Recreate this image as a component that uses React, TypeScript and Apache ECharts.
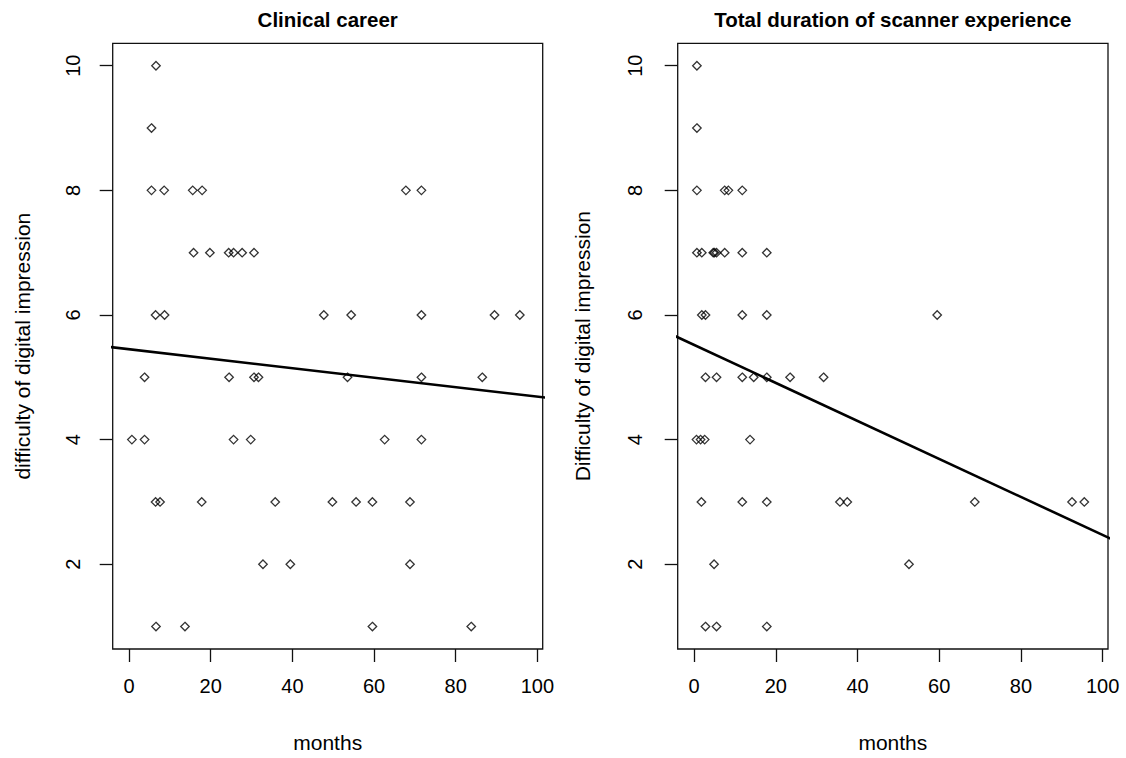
import React, { useEffect, useRef } from "react";
import * as echarts from "echarts";

const xTicks = [0, 20, 40, 60, 80, 100];
const yTicks = [2, 4, 6, 8, 10];

const titles = ["Clinical career", "Total duration of scanner experience"];
const yNames = ["difficulty of digital impression", "Difficulty of digital impression"];
const xName = "months";

const careerMonths = [
  6.6, 5.5, 5.5, 8.6, 15.6, 17.9, 67.8, 71.6, 15.8, 19.8, 24.4, 25.6, 27.7, 30.6,
  6.5, 8.7, 47.7, 54.4, 71.6, 89.5, 95.7, 3.8, 24.5, 30.6, 31.7, 53.5, 71.6, 86.5,
  0.7, 3.8, 25.6, 29.8, 62.6, 71.6, 6.5, 7.6, 17.8, 35.8, 49.8, 55.6, 59.6, 68.8,
  32.8, 39.5, 68.8, 6.6, 13.7, 59.6, 83.8,
];
const careerDifficulty = [
  10, 9, 8, 8, 8, 8, 8, 8, 7, 7, 7, 7, 7, 7,
  6, 6, 6, 6, 6, 6, 6, 5, 5, 5, 5, 5, 5, 5,
  4, 4, 4, 4, 4, 4, 3, 3, 3, 3, 3, 3, 3, 3,
  2, 2, 2, 1, 1, 1, 1,
];

const scannerMonths = [
  0.7, 0.7, 0.7, 7.5, 8.4, 11.8, 0.7, 1.9, 4.7, 5.0, 5.5, 7.5, 11.8, 17.8,
  1.9, 2.8, 11.8, 17.8, 59.5, 2.8, 5.5, 11.8, 14.6, 17.8, 23.5, 31.7,
  0.6, 1.6, 2.6, 13.7, 1.8, 11.8, 17.8, 35.7, 37.5, 68.7, 92.5, 95.5,
  4.9, 52.6, 2.8, 5.5, 17.8,
];
const scannerDifficulty = [
  10, 9, 8, 8, 8, 8, 7, 7, 7, 7, 7, 7, 7, 7,
  6, 6, 6, 6, 6, 5, 5, 5, 5, 5, 5, 5,
  4, 4, 4, 4, 3, 3, 3, 3, 3, 3, 3, 3,
  2, 2, 1, 1, 1,
];

// fitted regression lines: [intercept, slope]
const careerFit = [5.45, -0.0076];
const scannerFit = [5.52, -0.0305];

const FONT = "Liberation Sans";

export default function App() {
  const ref = useRef<HTMLDivElement>(null);
  useEffect(() => {
    if (!ref.current) return;
    const chart = echarts.init(ref.current, null, { renderer: "svg" });
    const grids = [
      { left: 112.7, top: 43.3, width: 430, height: 608.4 },
      { left: 677.7, top: 43.3, width: 430.3, height: 608.4 },
    ];
    const yNameGap = [79.5, 84.5];
    const yLabelMargin = [30, 32.5];
    const xMin = -4, xMax = 101.3;
    const fitLine = (f: number[]) => [
      [xMin - 5, f[0] + f[1] * (xMin - 5)],
      [xMax + 5, f[0] + f[1] * (xMax + 5)],
    ];
    const pts = (xs: number[], ys: number[]) => xs.map((x, i) => [x, ys[i]]);
    const scatterStyle = {
      color: "rgba(0,0,0,0)",
      borderColor: "#000",
      borderWidth: 1.3,
    };
    chart.setOption({
      animation: false,
      backgroundColor: "#fff",
      grid: grids.map((g) => ({
        ...g,
        show: true,
        borderColor: "#111",
        borderWidth: 1.3,
        backgroundColor: "rgba(0,0,0,0)",
      })),
      xAxis: [0, 1].map((i) => ({
        type: "value",
        gridIndex: i,
        min: xMin,
        max: xMax,
        name: xName,
        nameLocation: "middle",
        nameGap: 83,
        nameTextStyle: { fontFamily: FONT, fontSize: 21, color: "#000" },
        axisLine: { show: false, onZero: false },
        splitLine: { show: false },
        axisTick: {
          show: true,
          customValues: xTicks,
          length: 13,
          lineStyle: { color: "#111", width: 1.3 },
        },
        axisLabel: {
          customValues: xTicks,
          margin: 27,
          fontFamily: FONT,
          fontSize: 20,
          color: "#000",
        },
      })),
      yAxis: [0, 1].map((i) => ({
        type: "value",
        gridIndex: i,
        min: 0.64,
        max: 10.36,
        name: yNames[i],
        nameLocation: "middle",
        nameRotate: 90,
        nameGap: yNameGap[i],
        nameTextStyle: { fontFamily: FONT, fontSize: 21, color: "#000" },
        axisLine: { show: false, onZero: false },
        splitLine: { show: false },
        axisTick: {
          show: true,
          customValues: yTicks,
          length: 13,
          lineStyle: { color: "#111", width: 1.3 },
        },
        axisLabel: {
          customValues: yTicks,
          rotate: 90,
          margin: yLabelMargin[i],
          fontFamily: FONT,
          fontSize: 20,
          color: "#000",
        },
      })),
      graphic: titles.map((t, i) => ({
        type: "text",
        x: grids[i].left + grids[i].width / 2,
        y: 19,
        style: {
          text: t,
          align: "center",
          verticalAlign: "middle",
          fontFamily: FONT,
          fontWeight: "bold",
          fontSize: 20.5,
          fill: "#000",
        },
      })),
      series: [
        {
          type: "scatter",
          xAxisIndex: 0,
          yAxisIndex: 0,
          symbol: "diamond",
          symbolSize: 8.5,
          itemStyle: scatterStyle,
          data: pts(careerMonths, careerDifficulty),
        },
        {
          type: "scatter",
          xAxisIndex: 1,
          yAxisIndex: 1,
          symbol: "diamond",
          symbolSize: 8.5,
          itemStyle: scatterStyle,
          data: pts(scannerMonths, scannerDifficulty),
        },
        {
          type: "line",
          xAxisIndex: 0,
          yAxisIndex: 0,
          showSymbol: false,
          clip: true,
          lineStyle: { color: "#000", width: 2.6 },
          data: fitLine(careerFit),
        },
        {
          type: "line",
          xAxisIndex: 1,
          yAxisIndex: 1,
          showSymbol: false,
          clip: true,
          lineStyle: { color: "#000", width: 2.6 },
          data: fitLine(scannerFit),
        },
      ],
    });
    return () => chart.dispose();
  }, []);
  return (
    <div
      ref={ref}
      style={{ position: "fixed", left: 0, top: 0, width: 1126, height: 758 }}
    />
  );
}
